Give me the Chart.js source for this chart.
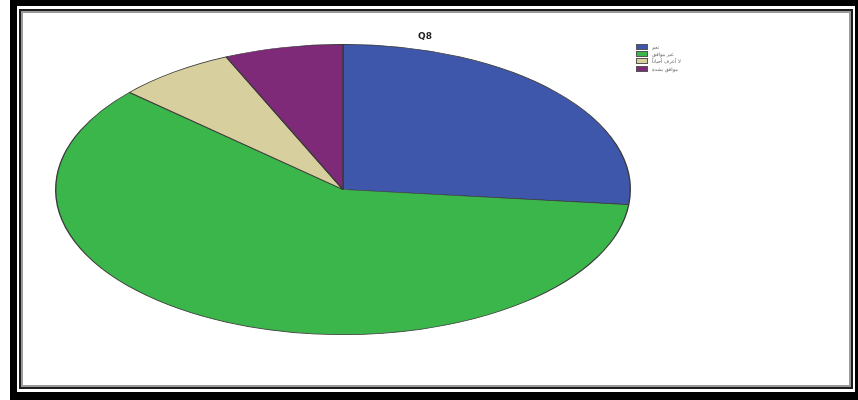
<!DOCTYPE html>
<html lang="ar">
<head>
  <meta charset="UTF-8" />
  <title>Q8</title>
  <script src="https://cdn.jsdelivr.net/npm/chart.js"></script>
  <style>
    html, body {
      margin: 0;
      padding: 0;
      width: 858px;
      height: 400px;
      background: #fff;
      overflow: hidden;
      font-family: 'DejaVu Sans', sans-serif;
    }
    .frame-outer { position: absolute; left: 10px; top: 0; width: 848px; height: 400px; background: #000; }
    .frame-gap { position: absolute; left: 17px; top: 6px; width: 838px; height: 386px; background: #fff; }
    .frame-line {
      position: absolute; left: 19px; top: 9px; width: 830px; height: 376px;
      border: 2px solid #1e1e1e; background: #fff;
    }
    .frame-inner {
      position: absolute; left: 0; top: 0; right: 0; bottom: 0;
      border: 2px solid #9a9a9a;
    }
    #wrap { position: absolute; left: 23px; top: 13px; width: 826px; height: 372px; }
    .title {
      position: absolute; left: 410px; top: 31px; width: 30px;
      text-align: center; font: bold 9px 'DejaVu Sans', sans-serif; color: #222;
    }
    #legend { position: absolute; left: 636px; top: 43px; }
    .leg-row { display: flex; align-items: center; height: 7.3px; }
    .leg-box { width: 12px; height: 6px; box-sizing: border-box; border: 1px solid #555; margin-right: 4px; }
    .leg-text { font: 5px 'DejaVu Sans', sans-serif; color: #666; white-space: nowrap; }
  </style>
</head>
<body>
  <div class="frame-outer"></div>
  <div class="frame-gap"></div>
  <div class="frame-line"><div class="frame-inner"></div></div>

  <div id="wrap"><canvas id="pieQ8"></canvas></div>
  <div class="title">Q8</div>
  <div id="legend"></div>

  <script>
    const categories = ["نعم", "غير موافق", "لا أعرف أحياناً", "موافق بشدة"];
    const counts = [40, 90, 10, 10];
    const sliceColors = ["#3e57aa", "#3bb64a", "#d7cf9d", "#7e2a78"];

    // stretch the round pie into a wide ellipse
    const stretchX = 288 / 145.5;
    const ellipsePlugin = {
      id: "ellipse",
      beforeDatasetsDraw(chart) {
        const { ctx, chartArea } = chart;
        const cx = (chartArea.left + chartArea.right) / 2;
        ctx.save();
        ctx.translate(cx, 0);
        ctx.scale(stretchX, 1);
        ctx.translate(-cx, 0);
      },
      afterDatasetsDraw(chart) {
        chart.ctx.restore();
      }
    };

    new Chart(document.getElementById("pieQ8"), {
      type: "pie",
      data: {
        labels: categories,
        datasets: [{
          data: counts,
          backgroundColor: sliceColors,
          borderColor: "#3a3a3a",
          borderWidth: 0.7
        }]
      },
      options: {
        responsive: true,
        maintainAspectRatio: false,
        animation: false,
        layout: { padding: { left: 174, right: 360, top: 31, bottom: 50 } },
        plugins: {
          legend: { display: false },
          tooltip: { enabled: false }
        }
      },
      plugins: [ellipsePlugin]
    });

    const legend = document.getElementById("legend");
    categories.forEach((name, i) => {
      legend.innerHTML += `
        <div class="leg-row">
          <div class="leg-box" style="background:${sliceColors[i]}"></div>
          <span class="leg-text">${name}</span>
        </div>`;
    });
  </script>
</body>
</html>
